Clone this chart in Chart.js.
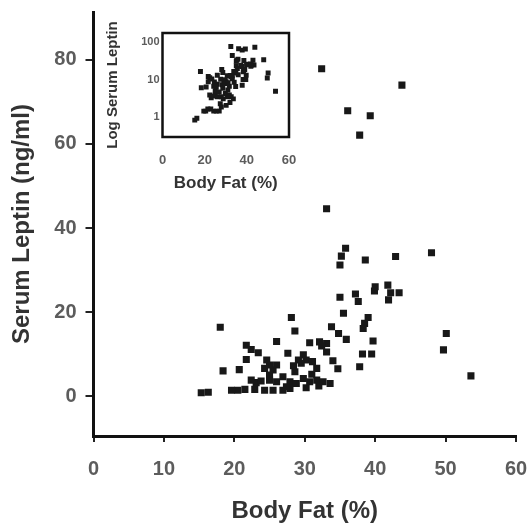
<!DOCTYPE html>
<html>
<head>
<meta charset="utf-8">
<script src="https://cdn.jsdelivr.net/npm/chart.js@4.4.1/dist/chart.umd.min.js"></script>
<style>
  html, body { margin: 0; padding: 0; background: #fff; }
  #wrap { position: relative; width: 528px; height: 526px; }
  #main { position: absolute; left: 0; top: 0; }
  #inset { position: absolute; left: 100px; top: 20px; }
</style>
</head>
<body>
<div id="wrap">
  <canvas id="main" width="528" height="526"></canvas>
  <canvas id="inset" width="200" height="180"></canvas>
</div>
<script>
// ---- data ----
const bodyFat = [
  32.4, 43.8, 36.1, 39.3, 37.8, 33.1, 35.8, 35.2, 35.0, 38.6,
  42.9, 48.0, 40.0, 39.9, 41.8, 42.2, 43.4, 41.9, 35.0, 37.2,
  37.6, 35.5, 39.0, 38.5, 38.3, 33.8, 34.8, 35.9, 39.7, 33.1,
  33.1, 38.2, 39.5, 34.7, 37.8, 50.1, 49.7, 53.6, 28.1, 28.6,
  30.7, 32.1, 32.4, 26.0, 27.6, 29.8, 30.2, 29.1, 28.4, 29.5,
  31.1, 31.7, 26.0, 25.0, 24.6, 25.5, 25.0, 25.0, 26.0, 26.9,
  27.9, 28.8, 29.8, 30.7, 31.7, 32.6, 33.6, 25.5, 26.9, 27.9,
  24.3, 22.9, 22.4, 23.1, 23.8, 21.5, 20.5, 19.6, 16.3, 15.3,
  18.0, 21.7, 22.4, 23.4, 21.7, 18.4, 20.7, 24.3, 27.4, 30.2,
  32.0, 28.6, 31.0, 34.0
];
const leptin = [
  77.9, 74.0, 67.9, 66.7, 62.1, 44.6, 35.2, 33.3, 31.2, 32.4,
  33.2, 34.1, 26.0, 25.0, 26.4, 24.6, 24.6, 22.9, 23.5, 24.3,
  22.5, 19.7, 18.7, 17.3, 16.1, 16.5, 14.9, 13.5, 13.1, 12.5,
  10.5, 10.0, 10.0, 6.5, 7.0, 14.9, 11.0, 4.8, 18.7, 15.5,
  12.7, 12.9, 11.9, 13.0, 10.2, 9.8, 8.6, 8.6, 7.2, 7.8,
  8.2, 6.6, 7.4, 7.4, 8.6, 6.2, 5.0, 3.8, 3.4, 4.6,
  3.4, 3.0, 4.2, 3.4, 3.8, 3.4, 3.0, 1.4, 1.4, 1.8,
  1.4, 1.6, 3.8, 3.2, 3.6, 1.6, 1.4, 1.4, 0.9, 0.8,
  16.4, 12.1, 11.1, 10.3, 8.7, 6.0, 6.3, 6.6, 2.2, 2.0,
  2.4, 5.8, 5.2, 8.4
];
const mainXTicks = [0, 10, 20, 30, 40, 50, 60];
const mainYTicks = [0, 20, 40, 60, 80];
const insetXTicks = [0, 20, 40, 60];
const insetYTicks = [1, 10, 100];

const FAMILY = '"Liberation Sans", Arial, Helvetica, sans-serif';
const points = bodyFat.map((x, i) => ({ x: x, y: leptin[i] }));

Chart.defaults.font.family = FAMILY;

function noPad(s) {
  s.paddingLeft = 0; s.paddingRight = 0; s.paddingTop = 0; s.paddingBottom = 0;
}

new Chart(document.getElementById('main'), {
  type: 'scatter',
  data: {
    datasets: [{
      data: points,
      pointStyle: 'rect',
      pointRadius: 5,
      pointHoverRadius: 5,
      backgroundColor: '#181818',
      borderWidth: 0
    }]
  },
  options: {
    responsive: false,
    animation: false,
    devicePixelRatio: 1,
    layout: { padding: { left: 0, right: 12, top: 12, bottom: 0 } },
    plugins: { legend: { display: false }, tooltip: { enabled: false } },
    scales: {
      x: {
        type: 'linear', min: 0, max: 60,
        afterBuildTicks: s => { s.ticks = mainXTicks.map(v => ({ value: v })); },
        ticks: { font: { size: 20, weight: 'bold' }, color: '#5c5c5c', padding: 15 },
        grid: { drawOnChartArea: false, drawTicks: true, tickLength: 6, color: '#222', lineWidth: 2 },
        border: { display: true, color: '#111', width: 3 },
        title: { display: true, text: 'Body Fat (%)', color: '#333',
                 font: { size: 24, weight: 'bold' }, padding: { top: 0, bottom: 0 } },
        afterFit: s => { s.height = 90; noPad(s); }
      },
      y: {
        type: 'linear', min: -9.5, max: 91.4,
        afterBuildTicks: s => { s.ticks = mainYTicks.map(v => ({ value: v })); },
        ticks: { font: { size: 20, weight: 'bold' }, color: '#5c5c5c', padding: 9 },
        grid: { drawOnChartArea: false, drawTicks: true, tickLength: 8, color: '#222', lineWidth: 2 },
        border: { display: true, color: '#111', width: 3 },
        title: { display: true, text: 'Serum Leptin (ng/ml)', color: '#333',
                 font: { size: 24, weight: 'bold' }, padding: { top: 8, bottom: 0 } },
        afterFit: s => { s.width = 93.5; noPad(s); }
      }
    }
  }
});

const boxPlugin = {
  id: 'box',
  afterDatasetsDraw(chart) {
    const a = chart.chartArea, ctx = chart.ctx;
    ctx.save();
    ctx.strokeStyle = '#111';
    ctx.lineWidth = 2.5;
    ctx.strokeRect(a.left, a.top, a.right - a.left, a.bottom - a.top);
    ctx.restore();
  }
};

new Chart(document.getElementById('inset'), {
  type: 'scatter',
  data: {
    datasets: [{
      data: points,
      pointStyle: 'rect',
      pointRadius: 3.5,
      pointHoverRadius: 3.5,
      backgroundColor: '#181818',
      borderWidth: 0
    }]
  },
  plugins: [boxPlugin],
  options: {
    responsive: false,
    animation: false,
    devicePixelRatio: 1,
    layout: { padding: { left: 0, right: 11, top: 13, bottom: 0 } },
    plugins: { legend: { display: false }, tooltip: { enabled: false } },
    scales: {
      x: {
        type: 'linear', min: 0, max: 60,
        afterBuildTicks: s => { s.ticks = insetXTicks.map(v => ({ value: v })); },
        ticks: { font: { size: 13, weight: 'bold' }, color: '#5c5c5c', padding: 16 },
        grid: { drawOnChartArea: false, drawTicks: false },
        border: { display: false },
        title: { display: true, text: 'Body Fat (%)', color: '#333',
                 font: { size: 17, weight: 'bold' }, padding: { top: 0, bottom: 6 } },
        afterFit: s => { s.height = 63; noPad(s); }
      },
      y: {
        type: 'logarithmic', min: 0.28, max: 180,
        afterBuildTicks: s => { s.ticks = insetYTicks.map(v => ({ value: v })); },
        ticks: { font: { size: 11, weight: 'bold' }, color: '#5c5c5c', padding: 3,
                 callback: v => String(v) },
        grid: { drawOnChartArea: false, drawTicks: false },
        border: { display: false },
        title: { display: true, text: 'Log Serum Leptin', color: '#333',
                 font: { size: 15, weight: 'bold' }, padding: { top: 4, bottom: 0 } },
        afterFit: s => { s.width = 62.5; noPad(s); }
      }
    }
  }
});
</script>
</body>
</html>
